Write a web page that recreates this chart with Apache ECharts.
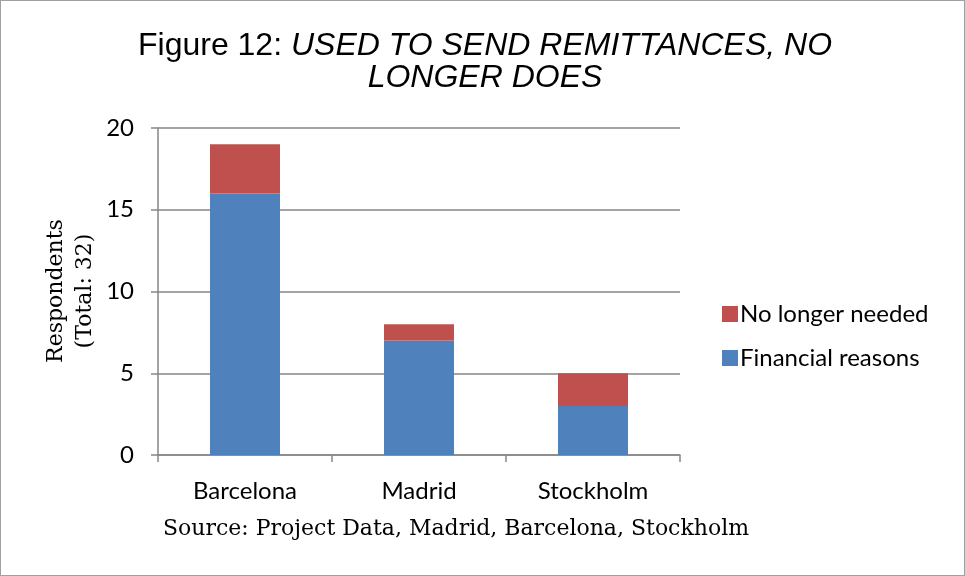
<!DOCTYPE html>
<html>
<head>
<meta charset="utf-8">
<script src="https://cdn.jsdelivr.net/npm/echarts@6/dist/echarts.min.js"></script>
<style>
  html, body { margin: 0; padding: 0; background: #fff; }
  #chart {
    width: 963px;
    height: 574px;
    border: 1px solid #a0a0a0;
  }
</style>
</head>
<body>
<div id="chart"></div>
<script>
// 城市
const cities = ['Barcelona', 'Madrid', 'Stockholm']
// 经济原因
const financialReasons = [16, 7, 3]
// 不再需要
const noLongerNeeded = [3, 1, 2]

const myChart = echarts.init(document.getElementById('chart'))

const option = {
  animation: false,
  grid: {
    left: 157,
    right: 284,
    top: 127,
    bottom: 120,
  },
  legend: {
    orient: 'vertical',
    left: 716,
    top: 296,
    itemGap: 20,
    itemWidth: 16,
    itemHeight: 16,
    icon: 'rect',
    data: ['No longer needed', 'Financial reasons'],
    textStyle: {
      fontFamily: 'Lato',
      fontSize: 24,
      color: '#000',
      padding: [0, 0, 0, -3],
    },
  },
  xAxis: {
    type: 'category',
    data: cities,
    axisLine: { lineStyle: { color: '#868686', width: 1.5 } },
    axisTick: { show: true, length: 7, lineStyle: { color: '#868686', width: 1.5 } },
    axisLabel: {
      margin: 24,
      fontFamily: 'Lato',
      fontSize: 24,
      color: '#000',
    },
  },
  yAxis: {
    type: 'value',
    min: 0,
    max: 20,
    interval: 5,
    axisLine: { show: true, lineStyle: { color: '#868686', width: 1.5 } },
    axisTick: { show: true, length: 7, lineStyle: { color: '#868686', width: 1.5 } },
    axisLabel: {
      margin: 24,
      fontFamily: 'Lato',
      fontSize: 24,
      color: '#000',
    },
    splitLine: { lineStyle: { color: '#868686', width: 1.5 } },
  },
  graphic: [
    // 标题
    {
      type: 'text',
      x: 484,
      y: 29,
      style: {
        text: '{n|Figure 12: }{i|USED TO SEND REMITTANCES, NO}\n{i|LONGER DOES}',
        align: 'center',
        verticalAlign: 'top',
        rich: {
          n: { fontFamily: 'Liberation Sans', fontSize: 32, fill: '#000', lineHeight: 32, align: 'center' },
          i: { fontFamily: 'Liberation Sans', fontSize: 32, fontStyle: 'italic', fill: '#000', lineHeight: 32, align: 'center' },
        },
      },
    },
    // 纵轴名称
    {
      type: 'text',
      x: 70,
      y: 290,
      rotation: Math.PI / 2,
      style: {
        text: 'Respondents\n(Total: 32)',
        fontFamily: 'DejaVu Serif',
        fontSize: 22,
        lineHeight: 29,
        fill: '#000',
        align: 'center',
        verticalAlign: 'middle',
      },
    },
    // 数据来源
    {
      type: 'text',
      x: 455,
      y: 528,
      style: {
        text: 'Source: Project Data, Madrid, Barcelona, Stockholm',
        fontFamily: 'DejaVu Serif',
        fontSize: 22,
        fill: '#000',
        align: 'center',
        verticalAlign: 'middle',
      },
    },
  ],
  series: [
    {
      name: 'Financial reasons',
      type: 'bar',
      stack: 'total',
      barWidth: 70,
      data: financialReasons,
      itemStyle: { color: '#4F81BD' },
    },
    {
      name: 'No longer needed',
      type: 'bar',
      stack: 'total',
      barWidth: 70,
      data: noLongerNeeded,
      itemStyle: { color: '#C0504D' },
    },
  ],
}

myChart.setOption(option)
</script>
</body>
</html>
